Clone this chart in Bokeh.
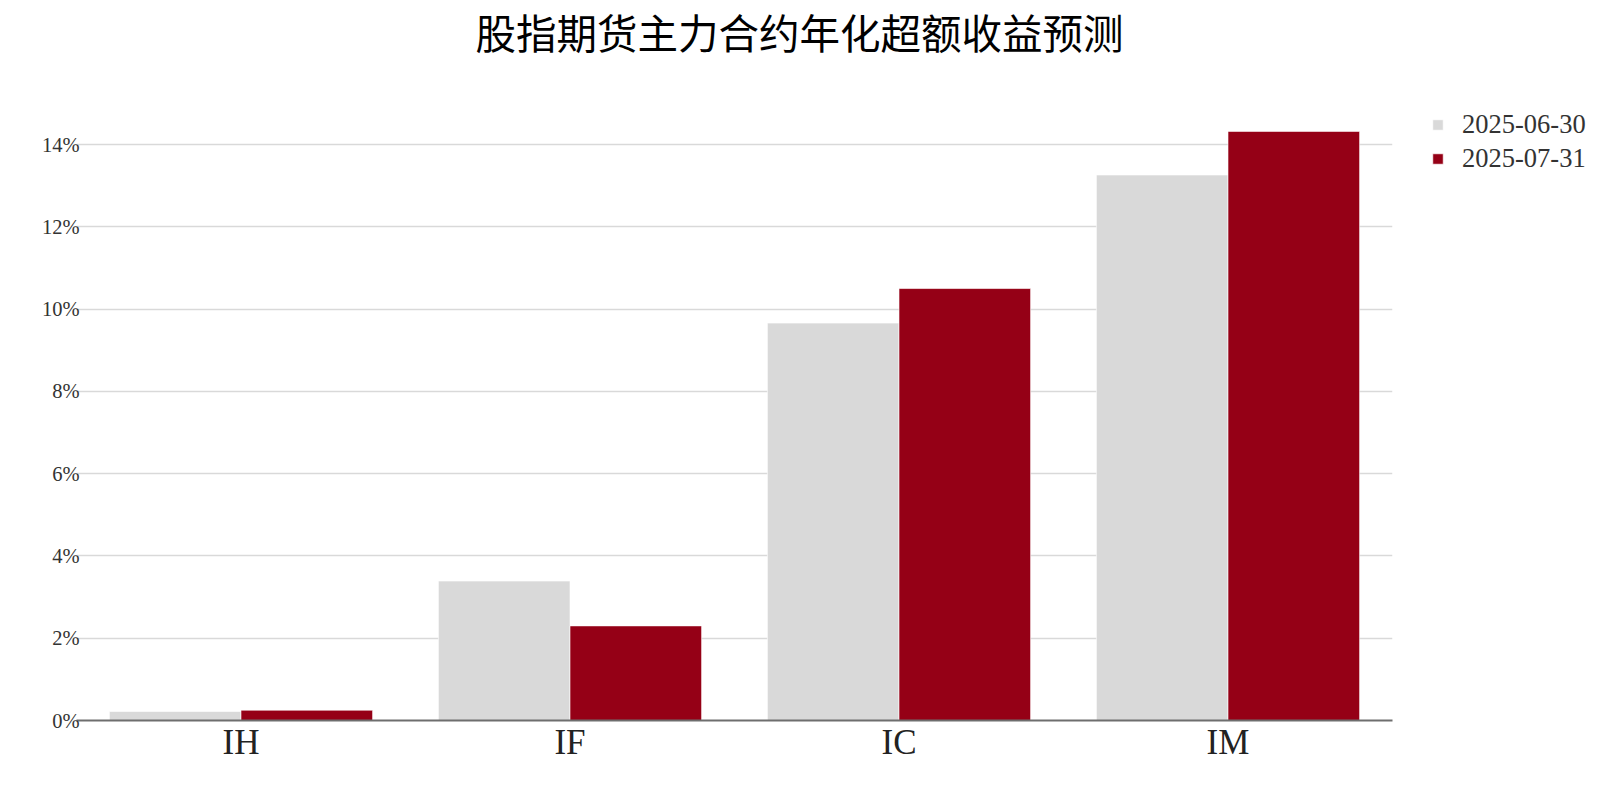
from bokeh.plotting import figure
from bokeh.models import ColumnDataSource, FactorRange, Range1d, FixedTicker, NumeralTickFormatter, Legend, LegendItem, Title
from bokeh.transform import dodge
from bokeh.embed import file_html
from bokeh.resources import INLINE

title_text = "股指期货主力合约年化超额收益预测"
categories = ["IH", "IF", "IC", "IM"]
series_names = ["2025-06-30", "2025-07-31"]
values_0630 = [0.0022, 0.0339, 0.0966, 0.1326]
values_0731 = [0.0025, 0.0230, 0.1050, 0.1432]
y_ticks = [0.0, 0.02, 0.04, 0.06, 0.08, 0.10, 0.12, 0.14]
colors = ["#d9d9d9", "#950016"]

source = ColumnDataSource(data=dict(cat=categories, s0=values_0630, s1=values_0731))

p = figure(
    x_range=FactorRange(*categories, range_padding=0),
    y_range=Range1d(0, 0.158),
    frame_width=1316, frame_height=650,
    min_border_left=76, min_border_right=192, min_border_top=0, min_border_bottom=72,
    output_backend="svg", toolbar_location=None,
    title=None,
)
p.outline_line_color = None
p.background_fill_color = "white"
p.border_fill_color = "white"

# spacer between the frame and the main title
spacer = Title(text=" ", text_font_size="1px", standoff=3)
p.add_layout(spacer, "above")

main_title = Title(text=title_text)
main_title.text_font = "Noto Sans CJK SC"
main_title.text_font_size = "40.5px"
main_title.text_font_style = "normal"
main_title.text_color = "#000000"
main_title.align = "left"
main_title.offset = 399
main_title.vertical_align = "top"
main_title.standoff = 3
p.add_layout(main_title, "above")

r0 = p.vbar(x=dodge("cat", -0.2, range=p.x_range), top="s0", width=0.4, source=source,
            fill_color=colors[0], line_color="white", line_width=0.6)
r1 = p.vbar(x=dodge("cat", 0.2, range=p.x_range), top="s1", width=0.4, source=source,
            fill_color=colors[1], line_color="white", line_width=0.6)

p.xgrid.grid_line_color = None
p.ygrid.grid_line_color = "#d9d9d9"
p.ygrid.grid_line_width = 1.5
p.ygrid.ticker = FixedTicker(ticks=y_ticks)

p.yaxis.ticker = FixedTicker(ticks=y_ticks)
p.yaxis.formatter = NumeralTickFormatter(format="0%")
p.yaxis.axis_line_color = None
p.yaxis.major_tick_line_color = None
p.yaxis.minor_tick_line_color = None
p.yaxis.major_tick_out = 0
p.yaxis.major_tick_in = 0
p.yaxis.major_label_standoff = -3
p.yaxis.major_label_text_font = "Liberation Serif"
p.yaxis.major_label_text_font_size = "20.5px"
p.yaxis.major_label_text_color = "#333333"

p.xaxis.axis_line_color = "#6e6e6e"
p.xaxis.axis_line_width = 2
p.xaxis.major_tick_line_color = None
p.xaxis.minor_tick_line_color = None
p.xaxis.major_tick_out = 0
p.xaxis.major_tick_in = 0
p.xaxis.major_label_standoff = 2
p.xaxis.major_label_text_font = "Liberation Serif"
p.xaxis.major_label_text_font_size = "35px"
p.xaxis.major_label_text_color = "#222222"

legend = Legend(items=[LegendItem(label=series_names[0], renderers=[r0]),
                       LegendItem(label=series_names[1], renderers=[r1])])
legend.location = "top_left"
legend.border_line_color = None
legend.background_fill_alpha = 0
legend.margin = 39
legend.padding = 42
legend.glyph_width = 13
legend.glyph_height = 13
legend.label_standoff = 18
legend.spacing = 3
legend.label_text_font = "Liberation Serif"
legend.label_text_font_size = "26.5px"
legend.label_text_color = "#333333"
p.add_layout(legend, "right")

open("out.html", "w").write(file_html(p, INLINE))
